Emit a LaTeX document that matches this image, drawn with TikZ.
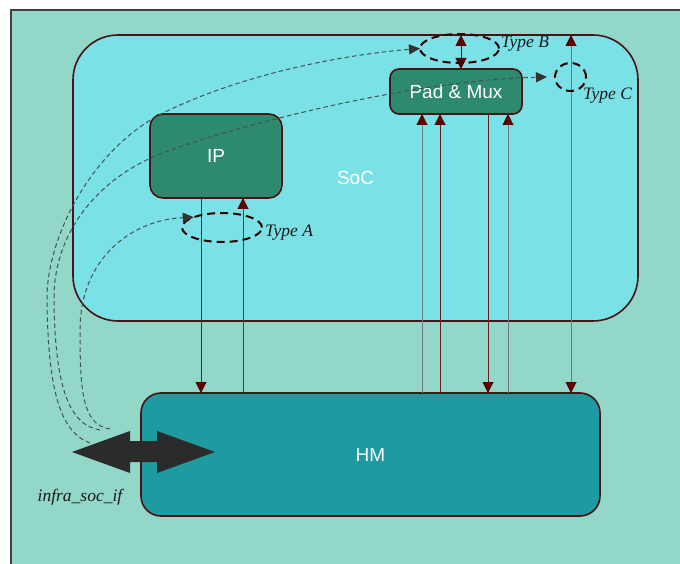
\documentclass[tikz,border=0pt]{standalone}
\usepackage{fontspec}
\setmainfont{Liberation Sans}
\newfontfamily\typefont{Liberation Serif}
\usetikzlibrary{arrows.meta,shapes.geometric}

\definecolor{bgcol}{HTML}{93D7C9}
\definecolor{soccol}{HTML}{7AE1E6}
\definecolor{blkcol}{HTML}{2E8A6F}
\definecolor{hmcol}{HTML}{1E9AA1}
\definecolor{edgecol}{HTML}{4A1214}
\definecolor{tipcol}{HTML}{5E0000}
\definecolor{redwire}{HTML}{6A1C1C}
\definecolor{greywire}{HTML}{6F7A7A}
\definecolor{slatewire}{HTML}{2F4A50}
\definecolor{hintcol}{HTML}{435353}

\begin{document}
\begin{tikzpicture}[x=1pt, y=-1pt,
  box/.style={draw=edgecol, line width=1.6pt, inner sep=0pt, outer sep=0pt, text=white,
    font=\fontsize{19}{22}\selectfont},
  blk/.style={box, fill=blkcol, rounded corners=13pt, minimum width=132pt},
  typ/.style={ellipse, draw=black!80!red, line width=2pt, dash pattern=on 8pt off 5pt,
    inner sep=0pt, outer sep=0pt},
  typlbl/.style={anchor=west, inner sep=0pt, text=black!90,
    font=\typefont\itshape\fontsize{17.5}{20}\selectfont},
  tip/.tip={Triangle[length=11pt, width=11pt, color=tipcol]},
  wire/.style={line width=1pt, redwire, -tip},
  gwire/.style={wire, greywire},
  hint/.style={hintcol, line width=1pt, dash pattern=on 4.5pt off 3pt,
    -{Triangle[length=11pt, width=10pt, color=black!80]}}]
  \path[use as bounding box] (0,0) rectangle (680,564);
  % backdrop
  \fill[bgcol] (11,10) rectangle (690,575);
  \draw[line width=2pt, black!75] (11,575) -- (11,10) -- (690,10);
  % blocks
  \node[box, fill=soccol, rounded corners=45pt, minimum width=565pt, minimum height=286pt]
      (soc) at (355.5,178) {SoC};
  \node[blk, minimum height=84pt] (ip)  at (216,156) {IP};
  \node[blk, minimum height=45pt, rounded corners=9pt] (pad) at (456,91.5) {Pad \& Mux};
  \node[box, fill=hmcol, rounded corners=20pt, minimum width=459pt, minimum height=123pt]
      (hm) at (370.5,454.5) {HM};
  % wire taps
  \coordinate (ipdn) at ([xshift=-15pt]ip.south);
  \coordinate (ipup) at ([xshift=27pt]ip.south);
  \coordinate (pup1) at ([xshift=-34pt]pad.south);
  \coordinate (pup2) at ([xshift=-16pt]pad.south);
  \coordinate (pdn)  at ([xshift=32pt]pad.south);
  \coordinate (pup3) at ([xshift=52pt]pad.south);
  \coordinate (pin)  at ([xshift=5pt]pad.north);
  \coordinate (ext)  at ([xshift=200.5pt]hm.north);
  % HM <-> SoC wires
  \draw[wire] (ipdn) -- (ipdn |- hm.north);
  \draw[wire, slatewire] (ipup |- hm.north) -- (ipup);
  \draw[gwire] (pup1 |- hm.north) -- (pup1);
  \draw[wire] (pup2 |- hm.north) -- (pup2);
  \draw[wire] (pdn) -- (pdn |- hm.north);
  \draw[gwire] (pup3 |- hm.north) -- (pup3);
  \draw[gwire, tip-tip] (ext) -- (ext |- soc.north);
  \draw[wire, black!75!red, tip-tip] (pin |- soc.north) -- (pin);
  % access types
  \node[typ, minimum width=80pt, minimum height=29pt] (typeA) at (222,227.5) {};
  \node[typ, minimum width=79pt, minimum height=29pt] (typeB) at (459.5,48.5) {};
  \node[typ, minimum width=31pt, minimum height=28pt] (typeC) at (570.5,77) {};
  \node[typlbl] (lblA) at (265,233) {Type A};
  \node[typlbl] (lblB) at (501,44) {Type B};
  \node[typlbl] (lblC) at (583,96) {Type C};
  % paths from the infra interface
  \coordinate (sA) at (110,429);
  \coordinate (sB) at (90,443);
  \coordinate (sC) at (100,430);
  \draw[hint] (sA) .. controls (82,425) and (80,390) .. (80,330)
      .. controls (80,260) and (130,220) .. (typeA.160);
  \draw[hint] (sB) .. controls (60,432) and (48,390) .. (47,300)
      .. controls (46,240) and (90,150) .. (163,113)
      .. controls (240,75) and (340,55) .. (typeB.west);
  \draw[hint] (sC) .. controls (70,425) and (55,390) .. (54,300)
      .. controls (53,240) and (90,185) .. (153,157)
      .. controls (200,136) and (400,80) .. ([xshift=-8pt]typeC.west);
  % infra_soc_if
  \fill[black!83] (72,452) -- (130,431) -- (130,441) -- (157,441) -- (157,431) -- (215,452)
      -- (157,473) -- (157,462) -- (130,462) -- (130,473) -- cycle;
  \node[inner sep=0pt, text=black!90, font=\typefont\itshape\fontsize{17.5}{20}\selectfont]
      (infra) at (80,497) {infra\_soc\_if};
\end{tikzpicture}
\end{document}
